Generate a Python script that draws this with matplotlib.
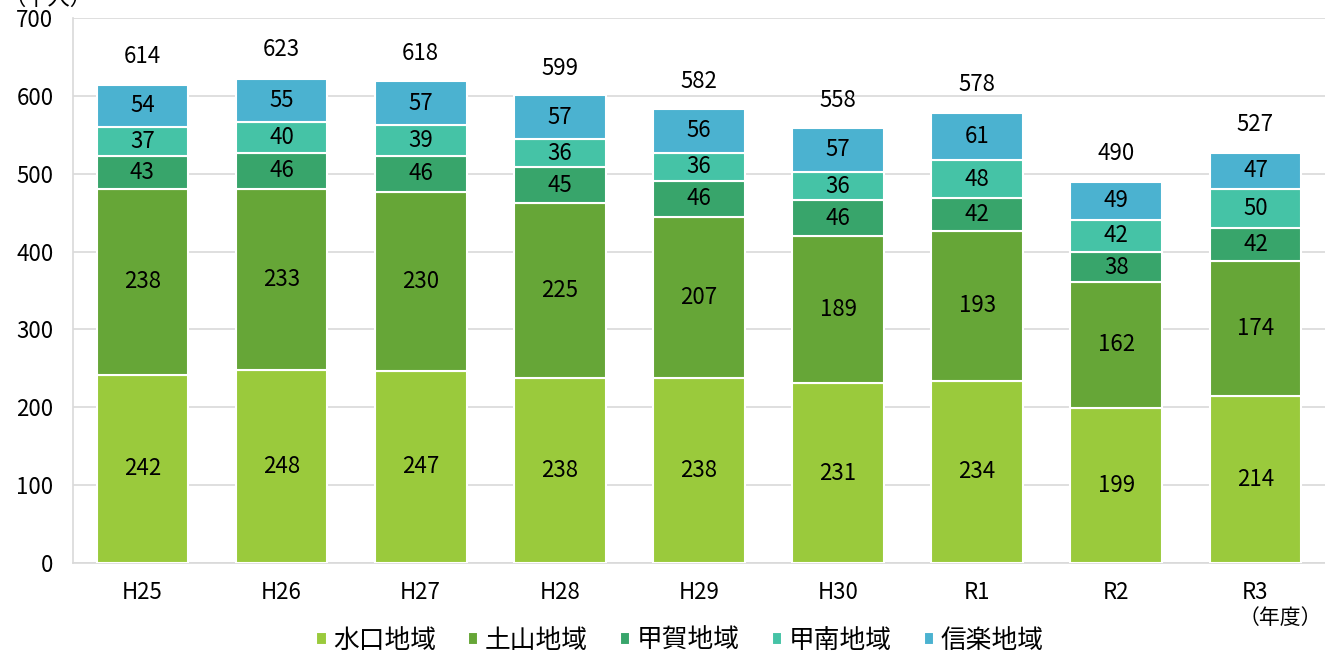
import matplotlib
matplotlib.use("Agg")
import matplotlib.pyplot as plt
import numpy as np

plt.rcParams['font.family'] = ['Noto Sans CJK JP', 'DejaVu Sans']

years = ["H25", "H26", "H27", "H28", "H29", "H30", "R1", "R2", "R3"]
minakuchi = [242, 248, 247, 238, 238, 231, 234, 199, 214]
tsuchiyama = [238, 233, 230, 225, 207, 189, 193, 162, 174]
koka = [43, 46, 46, 45, 46, 46, 42, 38, 42]
konan = [37, 40, 39, 36, 36, 36, 48, 42, 50]
shigaraki = [54, 55, 57, 57, 56, 57, 61, 49, 47]
totals = [614, 623, 618, 599, 582, 558, 578, 490, 527]

series = [minakuchi, tsuchiyama, koka, konan, shigaraki]
names = ["水口地域", "土山地域", "甲賀地域", "甲南地域", "信楽地域"]
colors = ["#9ACA3C", "#66A637", "#38A56B", "#45C3A6", "#4BB2D0"]

fig = plt.figure(figsize=(13.25, 6.55), dpi=100)
ax = fig.add_axes([0.055, 0.1405, 0.945, 0.832])

x = np.arange(len(years))
bottom = np.zeros(len(years))
for vals, name, c in zip(series, names, colors):
    ax.bar(x, vals, 0.66, bottom=bottom, color=c, edgecolor="white",
           linewidth=1.5, label=name, zorder=3)
    for xi, b, v in zip(x, bottom, vals):
        ax.text(xi, b + v / 2, str(v), ha="center", va="center", fontsize=16, zorder=4)
    bottom += np.array(vals)

for xi, t in zip(x, totals):
    ax.annotate(str(t), (xi, t), xytext=(0, 12), textcoords="offset points",
                ha="center", va="bottom", fontsize=16)

ax.set_xlim(-0.5, len(years) - 0.5)
ax.set_ylim(0, 700)
ax.set_yticks(range(0, 701, 100))
ax.set_xticks(x)
ax.set_xticklabels(years)
ax.tick_params(axis="both", length=0, labelsize=16)
ax.tick_params(axis="x", pad=13)
ax.tick_params(axis="y", pad=14)
ax.grid(axis="y", color="#D9D9D9", linewidth=1.2, zorder=0)
for s in ["top", "right"]:
    ax.spines[s].set_visible(False)
ax.spines["left"].set_color("#D9D9D9")
ax.spines["bottom"].set_color("#D9D9D9")
ax.spines["left"].set_linewidth(1.2)
ax.spines["bottom"].set_linewidth(1.2)

# unit label, partly above the top edge as in the original
fig.text(0.003, 1.003, "（千人）", fontsize=16, ha="left", va="center")
fig.text(0.998, 0.057, "（年度）", fontsize=15, ha="right", va="center")

ax.legend(loc="center", bbox_to_anchor=(0.513, 0.022), bbox_transform=fig.transFigure,
          ncol=5, frameon=False, fontsize=18.5, handlelength=0.4, handleheight=0.4,
          handletextpad=0.25, columnspacing=1.25)

fig.savefig("out.png", dpi=100)
